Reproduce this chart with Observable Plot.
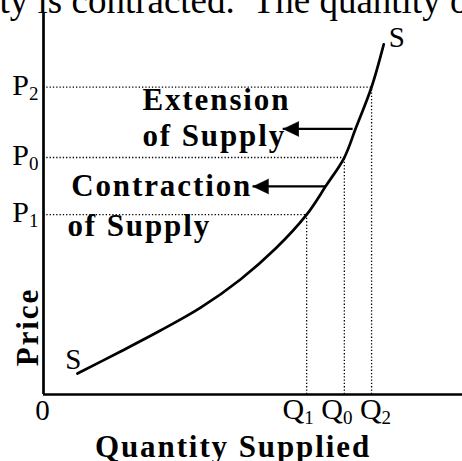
<!DOCTYPE html>
<html>
<head>
<meta charset="utf-8">
<script src="https://cdn.jsdelivr.net/npm/d3@7"></script>
<script src="https://cdn.jsdelivr.net/npm/@observablehq/plot@0.6"></script>
<style>
  html, body { margin: 0; padding: 0; background: #fff; }
  #chart { width: 462px; height: 461px; overflow: hidden; }
  #chart svg { display: block; }
  #chart text { white-space: pre; }
</style>
</head>
<body>
<div id="chart"></div>
<script>
// Supply curve S as (quantity, price) pairs; both axes run 0–100
const supplyQ = [8.1, 18.4, 27.9, 37.5, 47.0, 55.4, 62.8, 67.5, 71.8, 74.5, 78.3, 81.2];
const supplyP = [5.5, 11.3, 16.8, 22.8, 30.2, 38.3, 47.2, 54.9, 62.2, 69.8, 80.7, 91.9];
const curveLabel = "S";

// Price levels and the quantity supplied at each ("_" marks a subscript)
const priceLabels = ["P_2", "P_0", "P_1"];
const quantityLabels = ["Q_2", "Q_0", "Q_1"];
const priceValues = [80.7, 62.2, 47.2];
const quantityValues = [78.3, 71.8, 62.8];

// Movements along the curve: price level, start on the curve, arrow tip
const moveNames = ["Extension", "Contraction"];
const movePrice = [69.7, 54.6];
const moveFrom = [73.9, 67.3];
const moveTo = [57.2, 50.0];

// Annotation lines beside the arrows (left edge, baseline)
const noteText = ["Extension", "of Supply", "Contraction", "of Supply"];
const noteQ = [23.6, 23.6, 6.6, 5.7];
const noteP = [74.7, 65.1, 52.2, 41.5];

const originLabel = "0";
const xTitle = "Quantity Supplied";
const yTitle = "Price";

// Running sentence of the page text just above the diagram
const sentence = "quantity is contracted.\u00a0 The quantity of";
const sentenceLead = "quanti"; // part of the first word left of the page edge

const FONT = "'Liberation Serif', 'Times New Roman', Times, serif";

const supply = supplyQ.map((q, i) => ({q, p: supplyP[i]}));
const levels = priceLabels.map((label, i) => ({label, p: priceValues[i], q: quantityValues[i]}));
const moves = moveNames.map((name, i) => ({name, p: movePrice[i], from: moveFrom[i], to: moveTo[i]}));
const notes = noteText.map((text, i) => ({text, q: noteQ[i], p: noteP[i]}));
const quantityRow = d3.sort(d3.zip(quantityValues, quantityLabels), d => d[0]).map(d => d[1]).join(" ");

// width of the lead-in so the sentence runs off the left edge
const ctx = document.createElement("canvas").getContext("2d");
ctx.font = `37px ${FONT}`;
const leadWidth = ctx.measureText(sentenceLead).width;

const dotted = {stroke: "black", strokeWidth: 1.3, strokeDasharray: "1.3 2"};

const chart = Plot.plot({
  width: 462,
  height: 461,
  marginLeft: 43,
  marginRight: 0,
  marginTop: 13,
  marginBottom: 67,
  x: {domain: [0, 100], axis: null},
  y: {domain: [0, 100], axis: null},
  style: {fontFamily: FONT, background: "white", color: "black", overflow: "visible"},
  marks: [
    // guide lines from each price level to the curve and down to its quantity
    Plot.ruleY(levels, {y: "p", x1: () => 0, x2: "q", ...dotted}),
    Plot.ruleX(levels, {x: "q", y1: () => 0, y2: "p", ...dotted}),

    // axes
    Plot.ruleX([0], {stroke: "black", strokeWidth: 2.7}),
    Plot.ruleY([0], {stroke: "black", strokeWidth: 2.7}),

    // supply curve
    Plot.line(supply, {x: "q", y: "p", curve: "catmull-rom", stroke: "black", strokeWidth: 2.7}),
    Plot.text([supply[0]], {x: "q", y: "p", text: () => curveLabel, textAnchor: "end", lineAnchor: "bottom",
      dx: 4, dy: -5, fontSize: 29}),
    Plot.text([supply[supply.length - 1]], {x: "q", y: "p", text: () => curveLabel, textAnchor: "start",
      lineAnchor: "bottom", dx: 5, dy: 3, fontSize: 29}),

    // arrows pointing left from the curve
    Plot.ruleY(moves, {y: "p", x1: "from", x2: "to", stroke: "black", strokeWidth: 2.3}),
    Plot.vector(moves, {x: "to", y: "p", shape: "spike", anchor: "end", length: 15.7, r: 7.5, rotate: -90,
      fill: "black", stroke: "black", strokeWidth: 0.5}),

    // annotation text
    Plot.text(notes, {x: "q", y: "p", text: "text", textAnchor: "start", lineAnchor: "bottom",
      fontSize: 31, fontWeight: "bold"}),

    // tick labels
    Plot.text(levels, {y: "p", text: "label", frameAnchor: "left", textAnchor: "end", lineAnchor: "bottom",
      dx: -5, dy: 7.6, fontSize: 30}),
    Plot.text([quantityRow], {x: () => d3.mean(quantityValues), text: d => d, frameAnchor: "bottom",
      textAnchor: "middle", lineAnchor: "bottom", dx: -4, dy: 24, fontSize: 30}),
    Plot.text([originLabel], {frameAnchor: "bottom-left", textAnchor: "middle", lineAnchor: "bottom",
      dx: -1, dy: 25.5, fontSize: 29}),

    // axis titles
    Plot.text([yTitle], {frameAnchor: "bottom-left", rotate: -90, textAnchor: "middle", lineAnchor: "bottom",
      dx: -6, dy: -67.5, fontSize: 31, fontWeight: "bold"}),
    Plot.text([xTitle], {frameAnchor: "bottom", textAnchor: "middle", lineAnchor: "bottom",
      dx: -20, dy: 62.7, fontSize: 31, fontWeight: "bold"}),

    // sentence of surrounding page text
    Plot.text([sentence], {frameAnchor: "top-left", textAnchor: "start", lineAnchor: "bottom",
      dx: -44 - leadWidth, dy: -1, fontSize: 37})
  ]
});

const svg = d3.select(chart);

// bold headings are set with open letter spacing
svg.selectAll("g[font-weight='bold'] text, text[font-weight='bold']").style("letter-spacing", "1.9px");

// turn "X_n" into a letter with a lowered, smaller index
svg.selectAll("text").each(function () {
  const t = d3.select(this);
  const content = t.text();
  if (!/_\d/.test(content)) return;
  const parts = content.split(/_(\d)/);
  const subSize = 19, shift = 5;
  let offset = 0;
  t.text(null);
  parts.forEach((s, i) => {
    if (!s) return;
    const span = t.append("tspan").text(s);
    if (i % 2) {
      span.attr("font-size", subSize).attr("dy", shift - offset);
      offset = shift;
    } else if (offset) {
      span.attr("dy", -offset);
      offset = 0;
    }
  });
});

document.getElementById("chart").append(chart);
</script>
</body>
</html>
